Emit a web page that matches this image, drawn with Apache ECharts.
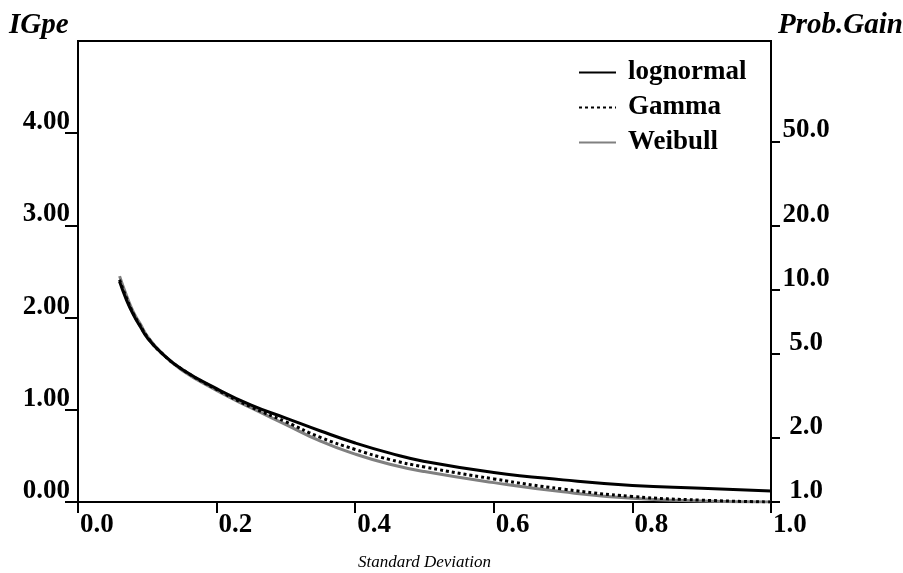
<!DOCTYPE html>
<html>
<head>
<meta charset="utf-8">
<script src="https://cdn.jsdelivr.net/npm/echarts@6/dist/echarts.min.js"></script>
<style>
  html, body { margin: 0; padding: 0; background: #fff; }
  #chart { width: 903px; height: 573px; }
</style>
</head>
<body>
<div id="chart"></div>
<script>
const sd = [0.06, 0.07, 0.08, 0.09, 0.1, 0.12, 0.15, 0.2, 0.25, 0.3, 0.35, 0.4, 0.45, 0.5, 0.6, 0.7, 0.8, 0.9, 1.0];
const lognormal = [2.39, 2.19, 2.03, 1.90, 1.78, 1.62, 1.44, 1.23, 1.05, 0.91, 0.77, 0.64, 0.53, 0.44, 0.32, 0.24, 0.18, 0.15, 0.12];
const gamma = [2.41, 2.21, 2.04, 1.91, 1.79, 1.62, 1.44, 1.22, 1.03, 0.87, 0.70, 0.57, 0.46, 0.38, 0.25, 0.14, 0.06, 0.02, 0.0];
const weibull = [2.45, 2.24, 2.06, 1.93, 1.80, 1.62, 1.43, 1.21, 1.02, 0.84, 0.66, 0.52, 0.41, 0.33, 0.21, 0.11, 0.04, 0.01, 0.0];

const igpeTicks = [0, 1, 2, 3, 4];
const probGainTicks = [1, 2, 5, 10, 20, 50];

const font = "'Liberation Serif', 'Times New Roman', serif";
const labelStyle = { fontFamily: font, fontWeight: "bold", fontSize: 27, color: "#000" };

const chart = echarts.init(document.getElementById("chart"));

const pairs = (ys) => sd.map((x, i) => [x, ys[i]]);

const option = {
  animation: false,
  backgroundColor: "#fff",
  grid: {
    left: 78, right: 132, top: 41, bottom: 71,
    outerBoundsMode: "none",
    containLabel: false,
    show: true, borderColor: "#000", borderWidth: 2
  },
  graphic: [
    { type: "text", left: 9, top: 11,
      style: { text: "IGpe", fontFamily: font, fontWeight: "bold", fontStyle: "italic", fontSize: 29, fill: "#000" } },
    { type: "text", right: 0, top: 11,
      style: { text: "Prob.Gain", fontFamily: font, fontWeight: "bold", fontStyle: "italic", fontSize: 29, fill: "#000" } }
  ],
  legend: {
    orient: "vertical",
    left: 578, top: 59, padding: 0,
    itemWidth: 37, itemHeight: 14, itemGap: 8,
    itemStyle: { opacity: 0 },
    textStyle: Object.assign({}, labelStyle, { padding: [0, 0, 0, 7] }),
    data: ["lognormal", "Gamma", "Weibull"]
  },
  xAxis: {
    type: "value",
    min: 0, max: 1, interval: 0.2,
    name: "Standard Deviation",
    nameLocation: "middle",
    nameGap: 52,
    nameTextStyle: { fontFamily: font, fontStyle: "italic", fontSize: 17, color: "#000" },
    axisLine: { lineStyle: { color: "#000", width: 2 } },
    axisTick: { length: 11, lineStyle: { color: "#000", width: 2 } },
    splitLine: { show: false },
    axisLabel: Object.assign({}, labelStyle, {
      margin: 10, align: "left", padding: [0, 0, 0, 2],
      formatter: (v) => v.toFixed(1)
    })
  },
  yAxis: [
    {
      type: "value",
      min: 0, max: 5,
      position: "left",
      axisLine: { show: true, lineStyle: { color: "#000", width: 2 } },
      axisTick: { show: true, length: 13, customValues: igpeTicks, lineStyle: { color: "#000", width: 2 } },
      splitLine: { show: false },
      axisLabel: Object.assign({}, labelStyle, {
        customValues: igpeTicks, margin: 8, verticalAlign: "bottom", lineHeight: 22,
        formatter: (v) => v.toFixed(2)
      })
    },
    {
      type: "value",
      min: 0, max: 5,
      position: "right",
      axisLine: { show: true, lineStyle: { color: "#000", width: 2 } },
      axisTick: { show: true, length: 9, customValues: probGainTicks.map(Math.log), lineStyle: { color: "#000", width: 2 } },
      splitLine: { show: false },
      axisLabel: Object.assign({}, labelStyle, {
        customValues: probGainTicks.map(Math.log), margin: 35, align: "center", verticalAlign: "bottom", lineHeight: 22,
        formatter: (v) => Math.exp(v).toFixed(1)
      })
    }
  ],
  series: [
    { name: "lognormal", type: "line", smooth: true, symbol: "none",
      lineStyle: { color: "#000", width: 3 }, itemStyle: { color: "#000" }, data: pairs(lognormal), z: 4 },
    { name: "Gamma", type: "line", smooth: true, symbol: "none",
      lineStyle: { color: "#000", width: 3, type: [3, 3] }, itemStyle: { color: "#000" }, data: pairs(gamma), z: 3 },
    { name: "Weibull", type: "line", smooth: true, symbol: "none",
      lineStyle: { color: "#808080", width: 3 }, itemStyle: { color: "#808080" }, data: pairs(weibull), z: 2 }
  ]
};

chart.setOption(option);
</script>
</body>
</html>
